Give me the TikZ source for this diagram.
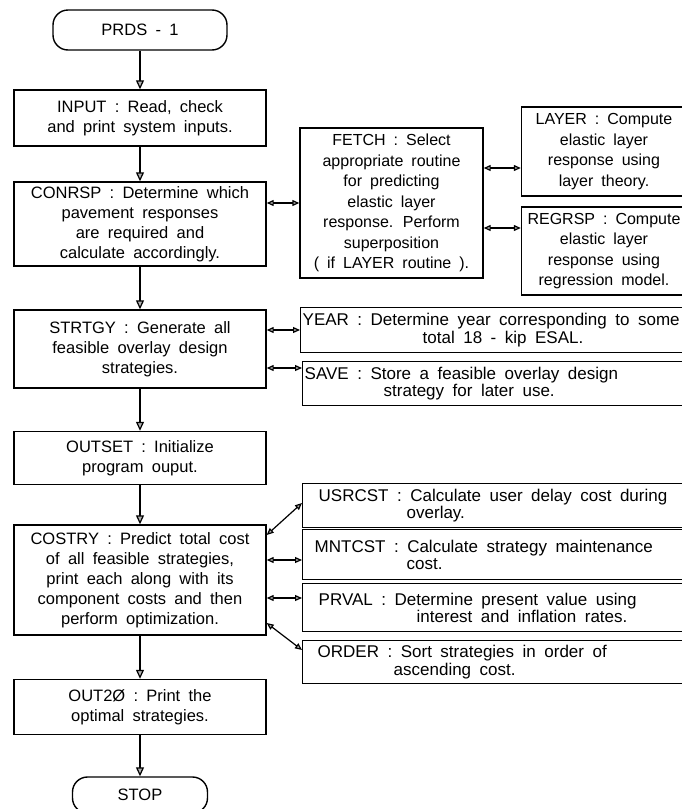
\documentclass[tikz,border=0pt]{standalone}
\usepackage{fontspec}
\setmainfont{Liberation Sans}[WordSpace=1.8]
\usetikzlibrary{arrows.meta}

\begin{document}
\begin{tikzpicture}[
        x=1pt, y=-1pt,
        font=\fontsize{16.5}{20}\selectfont,
        term/.style={rectangle, draw, rounded corners=15pt, line width=1.4pt},
        proc/.style={rectangle, draw, line width=1.4pt, align=center, minimum width=252pt, inner sep=2pt},
        sub/.style={rectangle, draw, line width=1.4pt, align=center, inner sep=2pt, font=\fontsize{16}{20.5}\selectfont},
        note/.style={rectangle, draw, line width=1.4pt, align=flush left, anchor=north west, text width=384pt, inner xsep=2pt, inner ysep=1pt, font=\fontsize{17}{17.5}\selectfont},
        flow/.style={-{Triangle[length=9pt, width=8pt, fill=gray!60]}, line width=1.2pt},
        link/.style={{Triangle[length=7pt, width=6pt, fill=gray!60]}-{Triangle[length=7pt, width=6pt, fill=gray!60]}, line width=1.2pt}
    ]
    \useasboundingbox (0,0) rectangle (681,809);

    % main program
    \node[term, minimum width=174pt, minimum height=40pt] (prds) at (140,30) {PRDS - 1};
    \node[proc, minimum height=56pt] (input) at (140,118) {INPUT : Read, check\\and print system inputs.};
    \node[proc, minimum height=84pt] (conrsp) at (140,224) {CONRSP : Determine which\\pavement responses\\are required and\\calculate accordingly.};
    \node[proc, minimum height=78pt] (strtgy) at (140,349) {STRTGY : Generate all\\feasible overlay design\\strategies.};
    \node[proc, minimum height=53pt] (outset) at (140,458) {OUTSET : Initialize\\program ouput.};
    \node[proc, minimum height=110pt] (costry) at (140,580) {COSTRY : Predict total cost\\of all feasible strategies,\\print each along with its\\component costs and then\\perform optimization.};
    \node[proc, minimum height=55pt] (out20) at (140,707) {OUT2Ø : Print the\\optimal strategies.};
    \node[term, minimum width=135pt, minimum height=36pt] (stop) at (140,795) {STOP};

    % subroutines
    \node[sub, minimum width=183pt, minimum height=150pt] (fetch) at (391.5,203) {FETCH : Select\\appropriate routine\\for predicting\\elastic layer\\response. Perform\\superposition\\( if LAYER routine ).};
    \node[sub, minimum width=165pt, minimum height=89pt] (layer) at (604,151.5) {LAYER : Compute\\elastic layer\\response using\\layer theory.};
    \node[sub, minimum width=165pt, minimum height=88pt] (regrsp) at (604,251) {REGRSP : Compute\\elastic layer\\response using\\regression model.};
    \node[note, minimum height=45pt] (year) at (300,307) {YEAR : Determine year corresponding to some\\\hspace*{120pt}total 18 - kip ESAL.};
    \node[note, minimum height=44pt] (save) at (302,361) {SAVE : Store a feasible overlay design\\\hspace*{79pt}strategy for later use.};
    \node[note, minimum height=44pt] (usrcst) at (302,483) {\hspace*{14pt}USRCST : Calculate user delay cost during\\\hspace*{102pt}overlay.};
    \node[note, minimum height=50pt] (mntcst) at (302,529) {\hspace*{10pt}MNTCST : Calculate strategy maintenance\\\hspace*{102pt}cost.};
    \node[note, minimum height=48pt] (prval) at (302,583) {\hspace*{14pt}PRVAL : Determine present value using\\\hspace*{112pt}interest and inflation rates.};
    \node[note, minimum height=43pt] (order) at (302,640) {\hspace*{13pt}ORDER : Sort strategies in order of\\\hspace*{89pt}ascending cost.};

    \draw[flow] (prds) -- (input);
    \draw[flow] (input) -- (conrsp);
    \draw[flow] (conrsp) -- (strtgy);
    \draw[flow] (strtgy) -- (outset);
    \draw[flow] (outset) -- (costry);
    \draw[flow] (costry) -- (out20);
    \draw[flow] (out20) -- (stop);

    \draw[link] (conrsp.east |- fetch.west) -- (fetch.west);
    \draw[link] (fetch.east |- 0,168) -- (layer.west |- 0,168);
    \draw[link] (fetch.east |- 0,228) -- (regrsp.west |- 0,228);
    \draw[link] (strtgy.east |- 0,330) -- (year.west |- 0,330);
    \draw[link] (strtgy.east |- 0,368) -- (save.west |- 0,368);
    \draw[link] (costry.east |- 0,535) -- (usrcst.west |- 0,503);
    \draw[link] (costry.east |- 0,560) -- (mntcst.west |- 0,560);
    \draw[link] (costry.east |- 0,598) -- (prval.west |- 0,598);
    \draw[link] (costry.east |- 0,623) -- (order.west |- 0,650);
\end{tikzpicture}
\end{document}
